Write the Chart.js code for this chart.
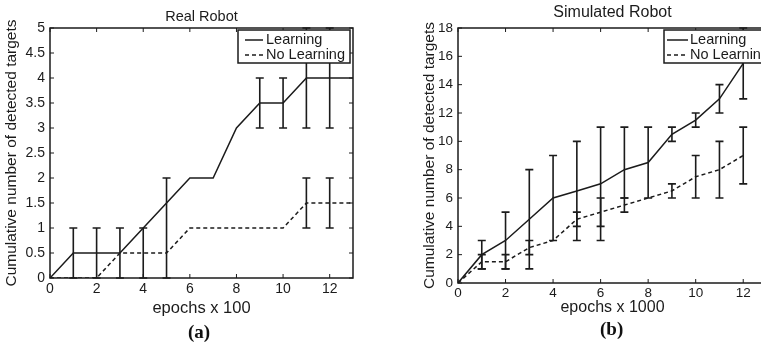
<!DOCTYPE html>
<html>
<head>
<meta charset="utf-8">
<script src="https://cdn.jsdelivr.net/npm/chart.js@4/dist/chart.umd.min.js"></script>
<style>
  html, body { margin: 0; padding: 0; background: #fff; }
  body { width: 761px; height: 352px; overflow: hidden; position: relative; }
  canvas { position: absolute; top: 0; }
  #realChart { left: 0; }
  #simChart { left: 380px; }
  .panel { position: absolute; font-family: "Liberation Serif", serif; font-weight: bold; font-size: 19px; color: #111; }
</style>
</head>
<body>
<canvas id="realChart" width="380" height="352"></canvas>
<canvas id="simChart" width="400" height="352"></canvas>
<div class="panel" style="left:188px; top:321px;">(a)</div>
<div class="panel" style="left:600px; top:318px;">(b)</div>
<script>
// panel (a): real robot, epochs x 100
const real_epochs = [0, 1, 2, 3, 4, 5, 6, 7, 8, 9, 10, 11, 12, 13];
const real_learning = [0, 0.5, 0.5, 0.5, 1, 1.5, 2, 2, 3, 3.5, 3.5, 4, 4, 4];
const real_no_learning = [0, 0, 0, 0.5, 0.5, 0.5, 1, 1, 1, 1, 1, 1.5, 1.5, 1.5];
const real_learning_low = [null, 0, 0, 0, 0, 0, null, null, null, 3, 3, 3, 3, null];
const real_learning_high = [null, 1, 1, 1, 1, 2, null, null, null, 4, 4, 5, 5, null];
const real_no_learning_low = [null, null, null, null, null, null, null, null, null, null, null, 1, 1, null];
const real_no_learning_high = [null, null, null, null, null, null, null, null, null, null, null, 2, 2, null];

// panel (b): simulated robot, epochs x 1000
const sim_epochs = [0, 1, 2, 3, 4, 5, 6, 7, 8, 9, 10, 11, 12];
const sim_learning = [0, 2, 3, 4.5, 6, 6.5, 7, 8, 8.5, 10.5, 11.5, 13, 15.5];
const sim_no_learning = [0, 1.5, 1.5, 2.5, 3, 4.5, 5, 5.5, 6, 6.5, 7.5, 8, 9];
const sim_learning_low = [null, 1, 1, 1, 3, 3, 3, 6, 6, 10, 11, 12, 13];
const sim_learning_high = [null, 3, 5, 8, 9, 10, 11, 11, 11, 11, 12, 14, 18];
const sim_no_learning_low = [null, 1, 1, 2, null, 4, 4, 5, null, 6, 6, 6, 7];
const sim_no_learning_high = [null, 2, 2, 3, null, 5, 6, 6, null, 7, 9, 10, 11];

const series_labels = ["Learning", "No Learning"];

const INK = "#1b1b1b";
const FONT = "'Liberation Sans', Arial, sans-serif";

// zip x and y into points
function toPoints(xs, ys){
    return xs.map((x, i) => ({x: x, y: ys[i]}));
};

// error bars, inward ticks, box frame and legend drawn on top of the lines
const matlabLook = {
    id: 'matlabLook',
    afterDatasetsDraw(chart){
        const ctx = chart.ctx;
        const area = chart.chartArea;
        const xs = chart.scales.x;
        const ys = chart.scales.y;
        const opts = chart.options.plugins.matlabLook;

        ctx.save();
        ctx.strokeStyle = INK;
        ctx.setLineDash([]);

        // error bars
        ctx.lineWidth = 1.6;
        chart.data.datasets.forEach((ds) => {
            ds.data.forEach((p, i) => {
                const lo = ds.errLow[i];
                const hi = ds.errHigh[i];
                if(lo == null || hi == null) return;
                const px = xs.getPixelForValue(p.x);
                const y1 = ys.getPixelForValue(lo);
                const y2 = ys.getPixelForValue(hi);
                const cap = opts.cap;
                ctx.beginPath();
                ctx.moveTo(px, y1); ctx.lineTo(px, y2);
                ctx.moveTo(px - cap, y1); ctx.lineTo(px + cap, y1);
                ctx.moveTo(px - cap, y2); ctx.lineTo(px + cap, y2);
                ctx.stroke();
            });
        });

        // inward ticks on all four sides
        ctx.lineWidth = 1;
        const tl = 4;
        xs.ticks.forEach((t) => {
            const px = xs.getPixelForValue(t.value);
            ctx.beginPath();
            ctx.moveTo(px, area.bottom); ctx.lineTo(px, area.bottom - tl);
            ctx.moveTo(px, area.top); ctx.lineTo(px, area.top + tl);
            ctx.stroke();
        });
        ys.ticks.forEach((t) => {
            const py = ys.getPixelForValue(t.value);
            ctx.beginPath();
            ctx.moveTo(area.left, py); ctx.lineTo(area.left + tl, py);
            ctx.moveTo(area.right, py); ctx.lineTo(area.right - tl, py);
            ctx.stroke();
        });

        // frame
        ctx.lineWidth = 1.5;
        ctx.strokeRect(area.left, area.top, area.right - area.left, area.bottom - area.top);

        // legend box
        const lg = opts.legend;
        const bx = area.right - lg.fromRight;
        const by = area.top + lg.fromTop;
        ctx.fillStyle = "#fff";
        ctx.fillRect(bx, by, lg.width, lg.height);
        ctx.lineWidth = 1.5;
        ctx.strokeRect(bx, by, lg.width, lg.height);
        ctx.font = lg.fontSize + "px " + FONT;
        ctx.textBaseline = "middle";
        ctx.fillStyle = INK;
        chart.data.datasets.forEach((ds, i) => {
            const ry = by + lg.rowTop + i * lg.rowGap;
            ctx.lineWidth = 1.5;
            ctx.setLineDash(ds.borderDash || []);
            ctx.beginPath();
            ctx.moveTo(bx + lg.sampleStart, ry);
            ctx.lineTo(bx + lg.sampleEnd, ry);
            ctx.stroke();
            ctx.setLineDash([]);
            ctx.fillText(ds.label, bx + lg.textStart, ry);
        });
        ctx.restore();
    }
};

function makeChart(canvasId, cfg){
    return new Chart(document.getElementById(canvasId), {
        type: 'line',
        data: {
            datasets: [{
                label: series_labels[0],
                data: toPoints(cfg.epochs, cfg.learning),
                errLow: cfg.learningLow,
                errHigh: cfg.learningHigh,
                borderColor: INK,
                borderWidth: 1.5,
                pointRadius: 0,
                tension: 0
            }, {
                label: series_labels[1],
                data: toPoints(cfg.epochs, cfg.noLearning),
                errLow: cfg.noLearningLow,
                errHigh: cfg.noLearningHigh,
                borderColor: INK,
                borderWidth: 1.5,
                borderDash: [4, 3],
                pointRadius: 0,
                tension: 0
            }]
        },
        options: {
            responsive: false,
            animation: false,
            layout: { padding: { left: 0, right: cfg.padRight, top: 0, bottom: 0 } },
            plugins: {
                legend: { display: false },
                tooltip: { enabled: false },
                title: {
                    display: true,
                    fullSize: false,
                    text: cfg.title,
                    color: INK,
                    font: { family: FONT, size: cfg.titleSize, weight: 'normal' },
                    padding: cfg.titlePad
                },
                matlabLook: { cap: 4, legend: cfg.legend }
            },
            scales: {
                x: {
                    type: 'linear',
                    min: 0,
                    max: 13,
                    grid: { display: false, drawTicks: false },
                    border: { display: false },
                    ticks: {
                        stepSize: 2,
                        includeBounds: false,
                        padding: cfg.xTickPad,
                        color: INK,
                        maxRotation: 0,
                        font: { family: FONT, size: cfg.tickSize }
                    },
                    title: {
                        display: true,
                        text: cfg.xTitle,
                        color: INK,
                        font: { family: FONT, size: cfg.xTitleSize },
                        padding: { top: 0, bottom: cfg.xTitlePad }
                    },
                    afterFit: (scale) => { scale.height = cfg.xHeight; }
                },
                y: {
                    min: 0,
                    max: cfg.yMax,
                    grid: { display: false, drawTicks: false },
                    border: { display: false },
                    ticks: {
                        stepSize: cfg.yStep,
                        padding: cfg.yTickPad,
                        color: INK,
                        font: { family: FONT, size: cfg.tickSize },
                        // matlab style labels: 0, 0.5, 1, 1.5 ...
                        callback: (value) => String(value)
                    },
                    title: {
                        display: true,
                        text: 'Cumulative number of detected targets',
                        color: INK,
                        font: { family: FONT, size: 15.5 },
                        padding: { top: cfg.yTitlePad, bottom: 0 }
                    },
                    afterFit: (scale) => { scale.width = cfg.yWidth; }
                }
            }
        },
        plugins: [matlabLook]
    });
};

makeChart('realChart', {
    title: 'Real Robot',
    titleSize: 14.5,
    titlePad: { top: 8, bottom: 2.6 },
    epochs: real_epochs,
    learning: real_learning,
    noLearning: real_no_learning,
    learningLow: real_learning_low,
    learningHigh: real_learning_high,
    noLearningLow: real_no_learning_low,
    noLearningHigh: real_no_learning_high,
    yMax: 5,
    yStep: 0.5,
    padRight: 27,
    yWidth: 50,
    xHeight: 74,
    tickSize: 14,
    xTickPad: 3,
    yTickPad: 5,
    xTitle: 'epochs x 100',
    xTitleSize: 16.5,
    xTitlePad: 34,
    yTitlePad: 2.7,
    legend: { fromRight: 115, fromTop: 2, width: 112, height: 33, fontSize: 14.5,
              rowTop: 10, rowGap: 15, sampleStart: 7, sampleEnd: 25, textStart: 28 }
});

makeChart('simChart', {
    title: 'Simulated Robot',
    titleSize: 16,
    titlePad: { top: 2.9, bottom: 5.9 },
    epochs: sim_epochs,
    learning: sim_learning,
    noLearning: sim_no_learning,
    learningLow: sim_learning_low,
    learningHigh: sim_learning_high,
    noLearningLow: sim_no_learning_low,
    noLearningHigh: sim_no_learning_high,
    yMax: 18,
    yStep: 2,
    padRight: 13,
    yWidth: 78,
    xHeight: 69,
    tickSize: 13.5,
    xTickPad: 2,
    yTickPad: 5,
    xTitle: 'epochs x 1000',
    xTitleSize: 16,
    xTitlePad: 34.4,
    yTitlePad: 40.7,
    legend: { fromRight: 103, fromTop: 2, width: 115, height: 33, fontSize: 14.5,
              rowTop: 10, rowGap: 15, sampleStart: 3, sampleEnd: 24, textStart: 26 }
});
</script>
</body>
</html>
